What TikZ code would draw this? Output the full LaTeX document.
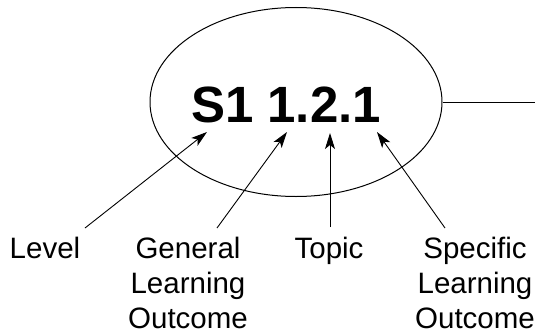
\documentclass[tikz,border=0pt]{standalone}
\usepackage{fontspec}
\setmainfont{Liberation Sans}
\usetikzlibrary{shapes.geometric, arrows.meta}
\tikzstyle{code} = [ellipse, draw=black, line width=1pt, minimum width=292pt, minimum height=189pt, inner sep=0pt]
\tikzstyle{part} = [align=center, anchor=base, font=\fontsize{29.5}{35}\selectfont]
\tikzstyle{arrow} = [line width=0.9pt, -{Stealth[length=16pt, width=10pt, inset=4pt]}]

\begin{document}
\begin{tikzpicture}[x=1pt, y=1pt]
\useasboundingbox (0,0) rectangle (535,333);

\node (oval) [code] at (296,231) {};
\node (label) [anchor=base, font=\fontsize{51}{60}\selectfont\bfseries] at (286,211) {S1 1.2.1};
\coordinate (rim) at (535,231);

% base of a label is its last line
\node (level) [part] at (45,75) {Level};
\node (general) [part] at (188,5) {General\\Learning\\Outcome};
\node (topic) [part] at (329,75) {Topic};
\node (specific) [part] at (475,5) {Specific\\Learning\\Outcome};

% arrow ends
\coordinate (levelTail) at (85,105);
\coordinate (generalTail) at (217,105);
\coordinate (topicTail) at (330,106);
\coordinate (specificTail) at (445,105);
\coordinate (levelHead) at (207,201);
\coordinate (generalHead) at (287,201);
\coordinate (topicHead) at (330,200);
\coordinate (specificHead) at (377,201);

\draw [line width=1pt] (oval.east) -- (rim);
\draw [arrow] (levelTail) -- (levelHead);
\draw [arrow] (generalTail) -- (generalHead);
\draw [arrow] (topicTail) -- (topicHead);
\draw [arrow] (specificTail) -- (specificHead);

\end{tikzpicture}
\end{document}
